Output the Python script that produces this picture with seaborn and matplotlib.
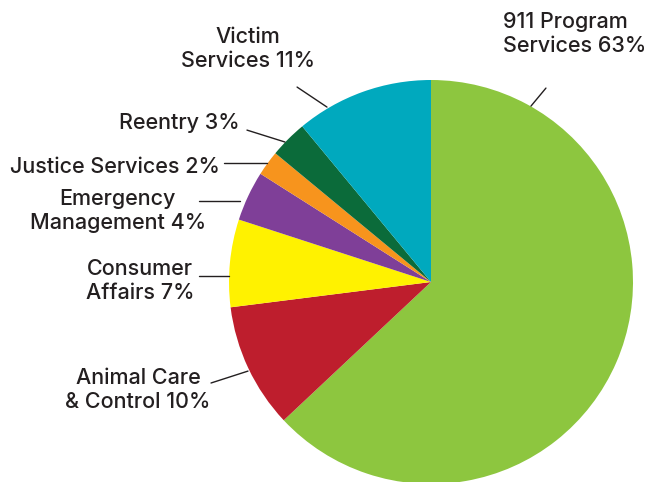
import matplotlib
matplotlib.use("Agg")
import matplotlib.pyplot as plt
import seaborn as sns

# Data (clockwise from 12 o'clock)
categories = ["911 Program\nServices", "Animal Care\n& Control", "Consumer\nAffairs",
              "Emergency\nManagement", "Justice Services", "Reentry", "Victim\nServices"]
shares = [63, 10, 7, 4, 2, 3, 11]
colors = ["#8DC63F", "#BE1E2D", "#FFF200", "#7F3F98", "#F7941D", "#0B6B3A", "#00A9BE"]

sns.set_theme(style="white")
plt.rcParams['font.family'] = ['Inter', 'DejaVu Sans']

W, H = 649, 482
cx, cy, r = 431, 282, 202
fig = plt.figure(figsize=(W / 100, H / 100), dpi=100)
fig.patch.set_facecolor("white")
ax = fig.add_axes([(cx - r) / W, (H - cy - r) / H, 2 * r / W, 2 * r / H])

ax.pie(shares, colors=sns.color_palette(colors), startangle=90, counterclock=False,
       radius=1, wedgeprops=dict(linewidth=0))
ax.set_xlim(-1, 1)
ax.set_ylim(-1, 1)
ax.set_aspect("equal")
ax.axis("off")

# label layout: (edge point, line end, text pos, ha)
layout = [
    ((0.495, 0.871), (0.569, 0.960), (0.356, 1.228), "left"),
    ((-0.906, -0.441), (-1.089, -0.50), (-1.45, -0.535), "center"),
    ((-1.0, 0.030), (-1.149, 0.030), (-1.44, 0.005), "center"),
    ((-0.946, 0.401), (-1.149, 0.401), (-1.55, 0.351), "center"),
    ((-0.812, 0.589), (-1.025, 0.589), (-1.043, 0.570), "right"),
    ((-0.723, 0.693), (-0.911, 0.752), (-0.948, 0.787), "right"),
    ((-0.515, 0.866), (-0.663, 0.965), (-0.906, 1.153), "center"),
]

for cat, val, (p0, p1, pt, ha) in zip(categories, shares, layout):
    ax.plot([p0[0], p1[0]], [p0[1], p1[1]], color="#231F20", lw=1, clip_on=False)
    ax.text(pt[0], pt[1], f"{cat} {val}%", ha=ha, va="center", multialignment=ha,
            fontsize=15.5, fontweight="medium", color="#231F20", linespacing=1.25)

fig.savefig("out.png", dpi=100, facecolor="white")
